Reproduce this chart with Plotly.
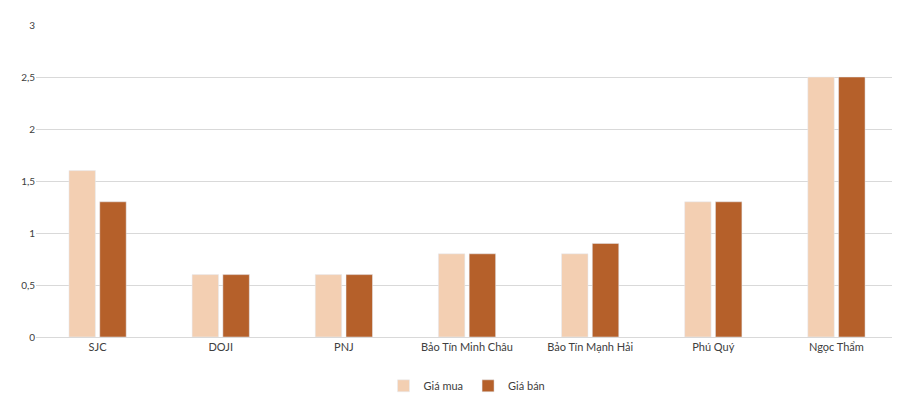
import plotly.graph_objects as go

categories = ["SJC", "DOJI", "PNJ", "Bảo Tín Minh Châu", "Bảo Tín Mạnh Hải", "Phú Quý", "Ngọc Thẩm"]
gia_mua = [1.6, 0.6, 0.6, 0.8, 0.8, 1.3, 2.5]
gia_ban = [1.3, 0.6, 0.6, 0.8, 0.9, 1.3, 2.5]

fig = go.Figure()
fig.add_trace(go.Bar(x=categories, y=gia_mua, name="Giá mua", marker_color="#F3CFB2"))
fig.add_trace(go.Bar(x=categories, y=gia_ban, name="Giá bán", marker_color="#B5602A"))

fig.update_layout(
    width=900, height=402,
    margin=dict(l=28, r=10, t=12, b=61),
    plot_bgcolor="white", paper_bgcolor="white",
    font=dict(family="Lato, Open Sans, sans-serif", size=11, color="#404040"),
    separators=",.",
    barmode="group", bargap=0.5, bargroupgap=0.14,
    legend=dict(orientation="h", x=0.5, xanchor="center", y=-0.11, yanchor="top",
                font=dict(size=11)),
    yaxis=dict(range=[0, 3], dtick=0.5, gridcolor="#D9D9D9", zeroline=False,
               tickfont=dict(size=10), ticks="", showline=False),
    xaxis=dict(showline=True, linecolor="#D9D9D9", ticks=""),
)

fig.write_html("out.html")
